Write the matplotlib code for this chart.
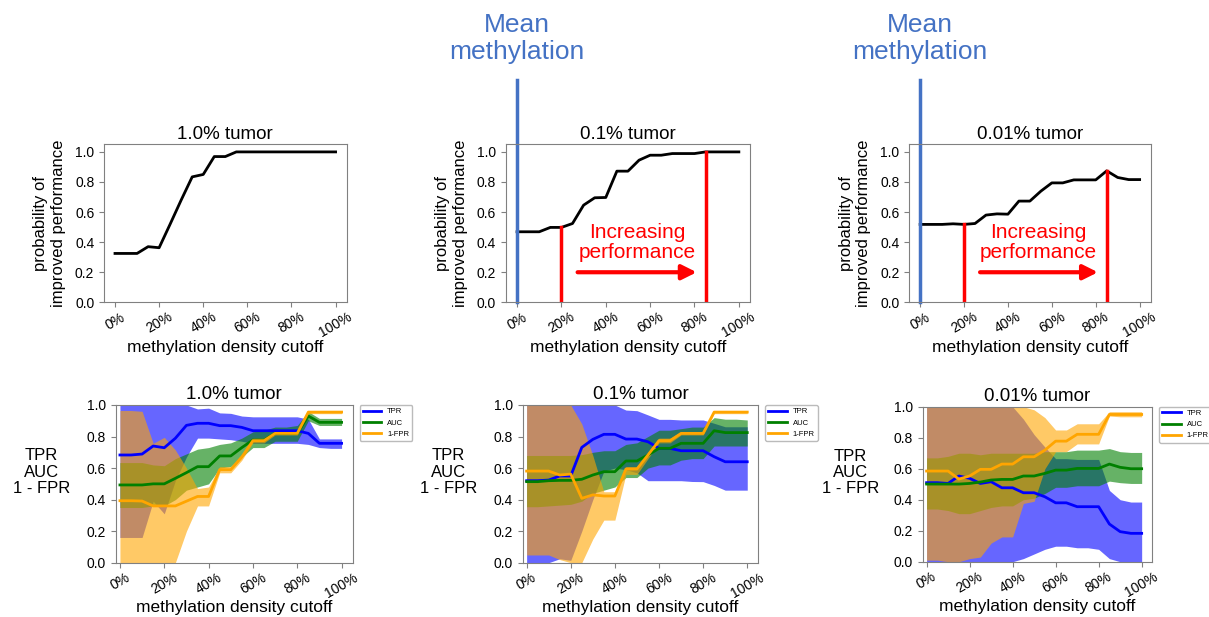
import numpy as np
import matplotlib
matplotlib.use('Agg')
import matplotlib.pyplot as plt
from matplotlib.ticker import PercentFormatter

plt.rcParams['font.family'] = ['Liberation Sans', 'DejaVu Sans']

# methylation density cutoffs (x axis)
cutoffs = [0.0, 0.05, 0.1, 0.15, 0.2, 0.25, 0.3, 0.35, 0.4, 0.45, 0.5,
           0.55, 0.6, 0.65, 0.7, 0.75, 0.8, 0.85, 0.9, 0.95, 1.0]
titles = ['1.0% tumor', '0.1% tumor', '0.01% tumor']

# probability of improved performance
prob_10 = [0.325, 0.325, 0.325, 0.37, 0.363, 0.52, 0.68, 0.834, 0.85, 0.969, 0.969,
           1.0, 1.0, 1.0, 1.0, 1.0, 1.0, 1.0, 1.0, 1.0, 1.0]
prob_01 = [0.469, 0.469, 0.469, 0.498, 0.498, 0.524, 0.646, 0.695, 0.697, 0.872, 0.872,
           0.945, 0.978, 0.978, 0.989, 0.989, 0.989, 1.0, 1.0, 1.0, 1.0]
prob_001 = [0.518, 0.518, 0.518, 0.522, 0.518, 0.524, 0.58, 0.588, 0.586, 0.673, 0.673,
            0.739, 0.794, 0.794, 0.814, 0.814, 0.814, 0.874, 0.83, 0.816, 0.816]

# red markers: range of increasing performance
perf_start = 0.2
perf_end = 0.85

# 1.0% tumor
tpr_10 = [0.683, 0.683, 0.689, 0.74, 0.729, 0.789, 0.871, 0.884, 0.884, 0.869, 0.869,
          0.858, 0.837, 0.837, 0.837, 0.837, 0.837, 0.82, 0.757, 0.757, 0.757]
tpr_10_hi = [1.0, 1.0, 1.0, 1.0, 1.0, 1.0, 1.0, 0.975, 0.98, 0.95, 0.947,
             0.93, 0.925, 0.925, 0.925, 0.925, 0.925, 0.91, 0.785, 0.785, 0.785]
tpr_10_lo = [0.16, 0.16, 0.16, 0.39, 0.31, 0.52, 0.67, 0.79, 0.79, 0.785, 0.78,
             0.77, 0.757, 0.757, 0.757, 0.757, 0.757, 0.75, 0.73, 0.725, 0.725]
auc_10 = [0.493, 0.493, 0.493, 0.5, 0.5, 0.535, 0.571, 0.609, 0.609, 0.677, 0.677,
          0.73, 0.778, 0.778, 0.82, 0.82, 0.82, 0.93, 0.89, 0.89, 0.89]
auc_10_hi = [0.635, 0.635, 0.635, 0.62, 0.615, 0.66, 0.69, 0.72, 0.73, 0.75, 0.76,
             0.79, 0.83, 0.84, 0.86, 0.86, 0.87, 0.958, 0.915, 0.915, 0.915]
auc_10_lo = [0.35, 0.35, 0.35, 0.36, 0.36, 0.4, 0.46, 0.48, 0.5, 0.6, 0.61,
             0.67, 0.73, 0.73, 0.77, 0.77, 0.77, 0.9, 0.87, 0.87, 0.87]
spec_10 = [0.393, 0.393, 0.391, 0.36, 0.36, 0.36, 0.39, 0.42, 0.42, 0.59, 0.59,
           0.67, 0.774, 0.774, 0.82, 0.82, 0.82, 0.955, 0.955, 0.955, 0.955]
spec_10_hi = [0.965, 0.965, 0.96, 0.757, 0.795, 0.715, 0.6, 0.47, 0.48, 0.61, 0.61,
              0.69, 0.79, 0.79, 0.83, 0.83, 0.83, 0.965, 0.965, 0.965, 0.965]
spec_10_lo = [0.0, 0.0, 0.0, 0.0, 0.0, 0.0, 0.2, 0.36, 0.36, 0.57, 0.57,
              0.65, 0.76, 0.76, 0.81, 0.81, 0.81, 0.945, 0.945, 0.945, 0.945]

# 0.1% tumor
tpr_01 = [0.52, 0.52, 0.524, 0.55, 0.55, 0.731, 0.782, 0.814, 0.814, 0.784, 0.784,
          0.767, 0.725, 0.725, 0.71, 0.71, 0.71, 0.672, 0.64, 0.64, 0.64]
tpr_01_hi = [1.0, 1.0, 1.0, 1.0, 1.0, 1.0, 1.0, 1.0, 1.0, 0.968, 0.964,
             0.937, 0.909, 0.909, 0.905, 0.905, 0.905, 0.884, 0.862, 0.862, 0.862]
tpr_01_lo = [0.0, 0.0, 0.0, 0.025, 0.015, 0.2, 0.4, 0.58, 0.6, 0.59, 0.57,
             0.52, 0.52, 0.52, 0.52, 0.515, 0.514, 0.49, 0.46, 0.46, 0.46]
auc_01 = [0.514, 0.514, 0.52, 0.522, 0.522, 0.529, 0.556, 0.577, 0.577, 0.645, 0.645,
          0.683, 0.725, 0.725, 0.757, 0.757, 0.757, 0.837, 0.825, 0.825, 0.825]
auc_01_hi = [0.68, 0.68, 0.68, 0.68, 0.68, 0.685, 0.7, 0.71, 0.71, 0.75, 0.76,
             0.8, 0.84, 0.84, 0.85, 0.86, 0.86, 0.92, 0.91, 0.91, 0.905]
auc_01_lo = [0.355, 0.355, 0.36, 0.365, 0.37, 0.39, 0.44, 0.46, 0.48, 0.54, 0.54,
             0.6, 0.62, 0.62, 0.65, 0.66, 0.66, 0.74, 0.74, 0.74, 0.74]
spec_01 = [0.581, 0.581, 0.581, 0.556, 0.562, 0.408, 0.43, 0.423, 0.423, 0.594, 0.594,
           0.683, 0.774, 0.774, 0.82, 0.82, 0.82, 0.955, 0.955, 0.955, 0.955]
spec_01_hi = [1.0, 1.0, 1.0, 1.0, 1.0, 0.88, 0.68, 0.45, 0.45, 0.61, 0.61,
              0.7, 0.79, 0.79, 0.83, 0.83, 0.83, 0.965, 0.965, 0.965, 0.965]
spec_01_lo = [0.049, 0.049, 0.049, 0.02, 0.0, 0.0, 0.15, 0.27, 0.27, 0.56, 0.56,
              0.66, 0.76, 0.76, 0.81, 0.81, 0.81, 0.945, 0.945, 0.945, 0.945]

# 0.01% tumor
tpr_001 = [0.51, 0.51, 0.505, 0.553, 0.538, 0.505, 0.516, 0.477, 0.477, 0.445, 0.445,
           0.419, 0.38, 0.38, 0.355, 0.355, 0.355, 0.243, 0.194, 0.183, 0.183]
tpr_001_hi = [1.0, 1.0, 1.0, 1.0, 1.0, 1.0, 1.0, 1.0, 1.0, 0.92, 0.82,
              0.74, 0.665, 0.665, 0.66, 0.66, 0.66, 0.46, 0.4, 0.385, 0.385]
tpr_001_lo = [0.0, 0.0, 0.0, 0.0, 0.0, 0.0, 0.0, 0.0, 0.0, 0.02, 0.05,
              0.08, 0.1, 0.1, 0.09, 0.09, 0.08, 0.02, 0.0, 0.0, 0.0]
auc_001 = [0.501, 0.501, 0.501, 0.501, 0.505, 0.514, 0.527, 0.531, 0.531, 0.553, 0.553,
           0.57, 0.591, 0.591, 0.602, 0.602, 0.602, 0.63, 0.609, 0.6, 0.6]
auc_001_hi = [0.67, 0.67, 0.68, 0.7, 0.7, 0.69, 0.7, 0.7, 0.7, 0.7, 0.7,
              0.71, 0.71, 0.71, 0.72, 0.72, 0.72, 0.73, 0.71, 0.705, 0.705]
auc_001_lo = [0.34, 0.34, 0.33, 0.31, 0.31, 0.33, 0.35, 0.36, 0.36, 0.4, 0.41,
              0.44, 0.48, 0.48, 0.49, 0.49, 0.49, 0.52, 0.51, 0.505, 0.505]
spec_001 = [0.585, 0.585, 0.585, 0.533, 0.553, 0.596, 0.596, 0.63, 0.63, 0.677, 0.677,
            0.72, 0.778, 0.778, 0.822, 0.822, 0.822, 0.95, 0.95, 0.95, 0.95]
spec_001_hi = [1.0, 1.0, 1.0, 1.0, 1.0, 1.0, 1.0, 1.0, 1.0, 1.0, 0.98,
               0.93, 0.85, 0.85, 0.89, 0.89, 0.89, 0.968, 0.968, 0.968, 0.968]
spec_001_lo = [0.01, 0.01, 0.0, 0.0, 0.02, 0.03, 0.12, 0.16, 0.16, 0.376, 0.39,
               0.6, 0.71, 0.71, 0.76, 0.76, 0.76, 0.94, 0.935, 0.935, 0.935]

probs = [prob_10, prob_01, prob_001]
bands = [
    (tpr_10, tpr_10_lo, tpr_10_hi, auc_10, auc_10_lo, auc_10_hi, spec_10, spec_10_lo, spec_10_hi),
    (tpr_01, tpr_01_lo, tpr_01_hi, auc_01, auc_01_lo, auc_01_hi, spec_01, spec_01_lo, spec_01_hi),
    (tpr_001, tpr_001_lo, tpr_001_hi, auc_001, auc_001_lo, auc_001_hi, spec_001, spec_001_lo, spec_001_hi),
]

top_pos = [[0.086, 0.51, 0.2007, 0.256],
           [0.4185, 0.51, 0.2018, 0.256],
           [0.752, 0.51, 0.1997, 0.256]]
bot_pos = [[0.0959, 0.088, 0.1958, 0.2556],
           [0.4323, 0.088, 0.1949, 0.2556],
           [0.7632, 0.0896, 0.19, 0.2512]]

ticks = [0.0, 0.2, 0.4, 0.6, 0.8, 1.0]
mean_blue = '#4472C4'


def style_axes(ax):
    for s in ax.spines.values():
        s.set_color('#808080')
    ax.tick_params(colors='#808080', labelcolor='black', labelsize=10)
    ax.set_xticks(ticks)
    ax.set_yticks(ticks)
    ax.xaxis.set_major_formatter(PercentFormatter(1.0, decimals=0))
    ax.tick_params(axis='x', rotation=30, pad=2)
    ax.set_xlabel('methylation density cutoff', fontsize=12.5, labelpad=0)


fig = plt.figure(figsize=(12.09, 6.17), dpi=100)

# top row: probability of improved performance
for i in range(3):
    ax = fig.add_axes(top_pos[i])
    ax.plot(cutoffs, probs[i], color='black', lw=2)
    ax.set_xlim(-0.05, 1.05)
    ax.set_ylim(0, 1.05)
    style_axes(ax)
    ax.set_title(titles[i], fontsize=13.5, pad=4)
    ax.set_ylabel('probability of\nimproved performance', fontsize=12, labelpad=6.5)

    if i > 0:
        # mean methylation marker
        ax.plot([0, 0], [0, 1.475], color=mean_blue, lw=2.5, clip_on=False)
        ax.text(0, 1.754, 'Mean\nmethylation', color=mean_blue, fontsize=19,
                ha='center', va='center')
        # cutoff range with increasing performance
        for c in (perf_start, perf_end):
            ax.plot([c, c], [0, probs[i][cutoffs.index(c)]], color='red', lw=2.5)
        ax.text(0.54, 0.397, 'Increasing\nperformance', color='red', fontsize=15,
                ha='center', va='center', linespacing=1.05)
        ax.annotate('', xy=(0.81, 0.2), xytext=(0.273, 0.2),
                    arrowprops=dict(arrowstyle='-|>', color='red', lw=3,
                                    mutation_scale=22, shrinkA=0, shrinkB=0))

# bottom row: TPR / AUC / 1-FPR
for i in range(3):
    tpr, tpr_lo, tpr_hi, auc, auc_lo, auc_hi, spec, spec_lo, spec_hi = bands[i]
    ax = fig.add_axes(bot_pos[i])
    ax.fill_between(cutoffs, tpr_lo, tpr_hi, color='blue', alpha=0.6, lw=0)
    ax.fill_between(cutoffs, auc_lo, auc_hi, color='green', alpha=0.6, lw=0)
    ax.fill_between(cutoffs, spec_lo, spec_hi, color='orange', alpha=0.6, lw=0)
    ax.plot(cutoffs, tpr, color='blue', lw=2, label='TPR')
    ax.plot(cutoffs, auc, color='green', lw=2, label='AUC')
    ax.plot(cutoffs, spec, color='orange', lw=2, label='1-FPR')
    ax.set_xlim(-0.018, 1.05)
    ax.set_ylim(0, 1)
    style_axes(ax)
    ax.set_title(titles[i], fontsize=13.5, pad=4)
    ax.text(-0.314, 0.575, 'TPR\nAUC\n1 - FPR', transform=ax.transAxes,
            ha='center', va='center', fontsize=12, linespacing=1.1)
    leg = ax.legend(loc='upper left', bbox_to_anchor=(1.03, 1.0), borderaxespad=0,
                    fontsize=5.5, handlelength=2.4)
    leg.get_frame().set_edgecolor('#aaaaaa')

fig.savefig('out.png', dpi=100)
